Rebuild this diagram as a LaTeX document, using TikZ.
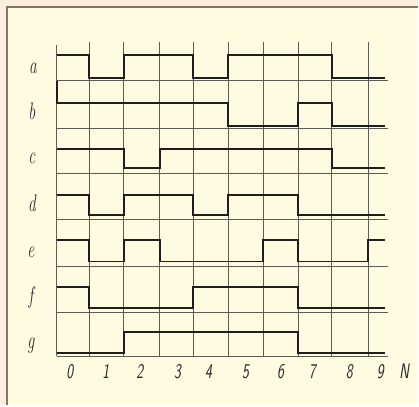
\documentclass[tikz,border=0pt]{standalone}
\usepackage{graphicx}
\definecolor{outc}{HTML}{FBEEDD}
\definecolor{innc}{HTML}{FFFCE2}
\definecolor{framec}{HTML}{857565}
\definecolor{gridc}{HTML}{5C5C52}
\definecolor{sigc}{HTML}{1E1E1E}
\definecolor{txtc}{HTML}{2A2A2A}
\begin{document}
\begin{tikzpicture}[x=1pt,y=-1pt,
  gridline/.style={draw=gridc, line width=0.9pt},
  sig/.style={draw=sigc, line width=1.9pt, line join=miter},
  lbl/.style={font=\fontsize{24}{28}\selectfont\itshape, text=txtc, inner sep=0pt},
  num/.style={font=\sffamily\slshape\fontsize{21}{25}\selectfont, text=txtc, inner sep=0pt}]
% background and frame
\fill[outc] (0,0) rectangle (419,406);
\fill[innc] (7,7) rectangle (419,406);
\draw[framec, line width=1.5pt] (7,406) -- (7,7) -- (419,7);
\useasboundingbox (0,0) rectangle (419,406);
% vertical grid lines
\draw[gridline] (56.7,45) -- (56.7,357);
\foreach \x in {89.5,124,160,193.5,228.5,263.5,298.5,332.5,369}
  \draw[gridline] (\x,42) -- (\x,357);
% horizontal baselines
\foreach \y in {81,128.7,173.5,219.5,266.7,312.8,357}
  \draw[gridline] (56.7,\y) -- (389,\y);
% signals
\draw[sig] (56.7,55) -| (89.5,78) -| (124,55) -| (193.5,78) -| (228.5,55) -| (332.5,78) -- (386,78);
\draw[sig] (56.7,81) -- (56.7,103.5) -| (228.5,126) -| (298.5,103.5) -| (332.5,126) -- (386,126);
\draw[sig] (56.7,149.7) -| (124,168.5) -| (160,149.7) -| (332.5,168.5) -- (386,168.5);
\draw[sig] (56.7,195.5) -| (89.5,215) -| (124,195.5) -| (193.5,215) -| (228.5,195.5) -| (298.5,215) -- (386,215);
\draw[sig] (56.7,240.5) -| (89.5,262) -| (124,240.5) -| (160,262) -| (263.5,240.5) -| (298.5,262) -| (369,240.5) -- (386,240.5);
\draw[sig] (56.7,287.7) -| (89.5,308.5) -| (193.5,287.7) -| (298.5,308.5) -- (386,308.5);
\draw[sig] (56.7,353.3) -| (124,332.5) -| (298.5,353.3) -- (386,353.3);
% row labels
\node[lbl] (la) at (33,68) {\scalebox{0.65}[1]{a}};
\node[lbl] (lb) at (32,112) {\scalebox{0.65}[1]{b}};
\node[lbl] (lc) at (32,159) {\scalebox{0.65}[1]{c}};
\node[lbl] (ld) at (32,204) {\scalebox{0.65}[1]{d}};
\node[lbl] (le) at (31,253) {\scalebox{0.65}[1]{e}};
\node[lbl] (lf) at (31,298) {\scalebox{0.65}[1]{f}};
\node[lbl] (lg) at (31,346) {\scalebox{0.65}[1]{g}};
% column numbers
\node[num] (n0) at (70,372) {\scalebox{0.7}[1]{0}};
\node[num] (n1) at (106,372) {\scalebox{0.7}[1]{1}};
\node[num] (n2) at (140,372) {\scalebox{0.7}[1]{2}};
\node[num] (n3) at (178,372) {\scalebox{0.7}[1]{3}};
\node[num] (n4) at (209,372) {\scalebox{0.7}[1]{4}};
\node[num] (n5) at (246,372) {\scalebox{0.7}[1]{5}};
\node[num] (n6) at (281,372) {\scalebox{0.7}[1]{6}};
\node[num] (n7) at (313,372) {\scalebox{0.7}[1]{7}};
\node[num] (n8) at (350,372) {\scalebox{0.7}[1]{8}};
\node[num] (n9) at (381,372) {\scalebox{0.7}[1]{9}};
\node[num] (nN) at (405,372) {\scalebox{0.7}[1]{N}};
\end{tikzpicture}
\end{document}
